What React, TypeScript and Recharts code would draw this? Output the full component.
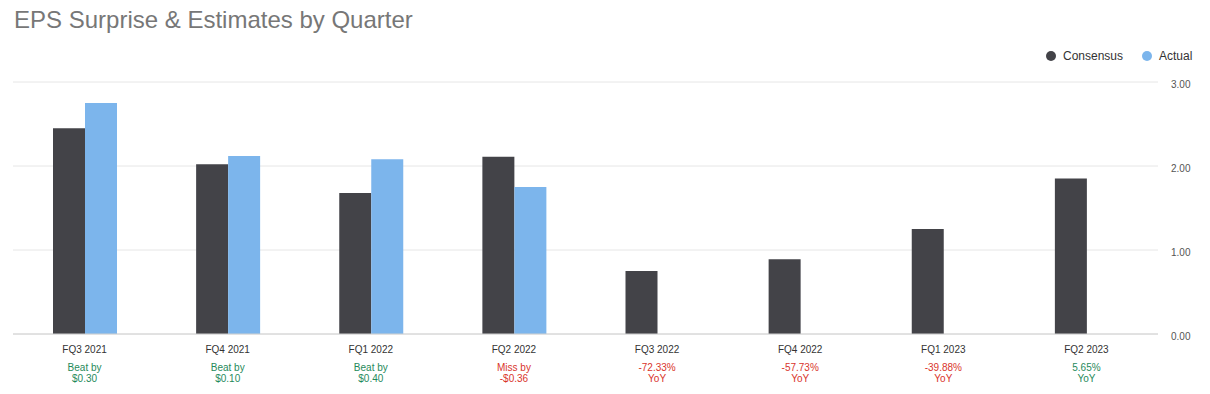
import { Bar, BarChart, CartesianGrid, XAxis, YAxis } from "recharts";

const quarters = [
  "FQ3 2021",
  "FQ4 2021",
  "FQ1 2022",
  "FQ2 2022",
  "FQ3 2022",
  "FQ4 2022",
  "FQ1 2023",
  "FQ2 2023",
];
const consensus = [2.45, 2.02, 1.68, 2.11, 0.75, 0.89, 1.25, 1.85];
const actual = [2.75, 2.12, 2.08, 1.75, null, null, null, null];
const noteTop = ["Beat by", "Beat by", "Beat by", "Miss by", "-72.33%", "-57.73%", "-39.88%", "5.65%"];
const noteBottom = ["$0.30", "$0.10", "$0.40", "-$0.36", "YoY", "YoY", "YoY", "YoY"];
const yTicks = [0, 1, 2, 3];

const data = quarters.map((q, i) => ({
  quarter: q,
  consensus: consensus[i],
  actual: actual[i],
}));

const FONT = '"Liberation Sans", Arial, sans-serif';
const DARK = "#434348";
const BLUE = "#7cb5ec";
const GREEN = "#1f8a5b";
const RED = "#d9342b";

function QuarterTick(props: any) {
  const { x, y, payload, index } = props;
  const top = noteTop[index];
  const bad = top.startsWith("Miss") || top.startsWith("-");
  const color = bad ? RED : GREEN;
  return (
    <g fontFamily={FONT} fontSize={10} textAnchor="middle">
      <text x={x} y={y + 17} fill="#333">
        {payload.value}
      </text>
      <text x={x} y={y + 35} fill={color}>
        {top}
      </text>
      <text x={x} y={y + 46} fill={color}>
        {noteBottom[index]}
      </text>
    </g>
  );
}

function ValueTick(props: any) {
  const { x, y, payload } = props;
  return (
    <text x={x} y={y + 6} fill="#555" fontFamily={FONT} fontSize={10} textAnchor="start">
      {payload.value.toFixed(2)}
    </text>
  );
}

function LegendItem({ color, label, left }: { color: string; label: string; left: number }) {
  return (
    <div
      style={{
        position: "absolute",
        left,
        top: 49,
        display: "flex",
        alignItems: "center",
        fontFamily: FONT,
        fontSize: 12,
        color: "#333",
      }}
    >
      <span
        style={{
          width: 10,
          height: 10,
          borderRadius: 5,
          background: color,
          display: "inline-block",
          marginRight: 7,
        }}
      />
      {label}
    </div>
  );
}

export default function App() {
  return (
    <div
      style={{
        position: "absolute",
        left: 0,
        top: 0,
        width: 1210,
        height: 394,
        background: "#fff",
      }}
    >
      <div
        style={{
          position: "absolute",
          left: 14,
          top: 6,
          fontFamily: FONT,
          fontSize: 24,
          color: "#777",
          whiteSpace: "nowrap",
        }}
      >
        EPS Surprise &amp; Estimates by Quarter
      </div>
      <LegendItem color={DARK} label="Consensus" left={1046} />
      <LegendItem color={BLUE} label="Actual" left={1142} />
      <BarChart
        width={1210}
        height={394}
        data={data}
        margin={{ top: 82, right: 0, left: 13, bottom: 10 }}
        barGap={0}
        barSize={32}
      >
        <CartesianGrid stroke="#e6e6e6" vertical={false} />
        <XAxis
          dataKey="quarter"
          height={50}
          tickLine={false}
          tickSize={0}
          axisLine={{ stroke: "#d0d0d0" }}
          tick={<QuarterTick />}
          interval={0}
        />
        <YAxis
          orientation="right"
          width={52}
          domain={[0, 3]}
          ticks={yTicks}
          axisLine={false}
          tickLine={false}
          tickSize={0}
          tickMargin={13}
          tick={<ValueTick />}
        />
        <Bar dataKey="consensus" fill={DARK} isAnimationActive={false} />
        <Bar dataKey="actual" fill={BLUE} isAnimationActive={false} />
      </BarChart>
    </div>
  );
}
